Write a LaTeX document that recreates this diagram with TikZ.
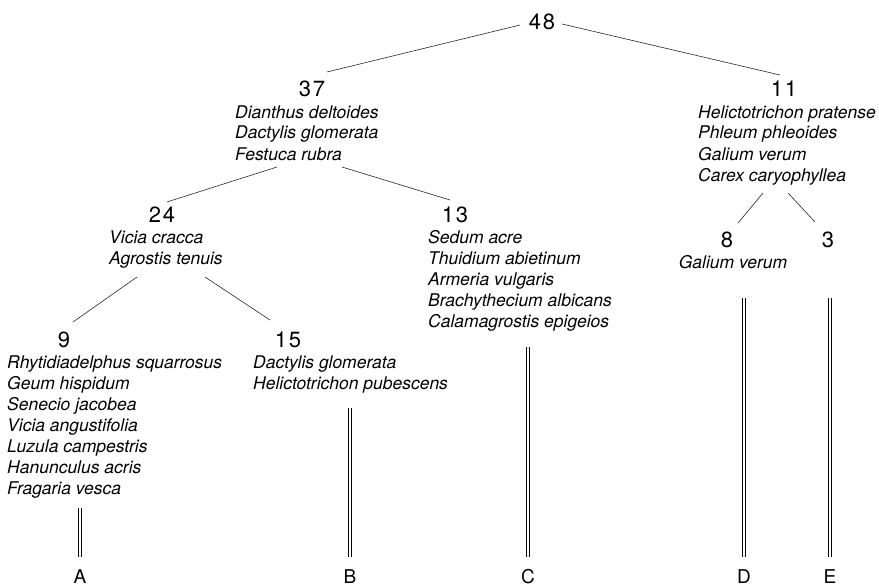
\documentclass[tikz,border=0pt]{standalone}
\usepackage{fontspec}
\setmainfont{TeX Gyre Heros}
\newfontfamily\numfont[LetterSpace=8]{TeX Gyre Heros}

\tikzset{
    branch/.style = {line width=0.6pt, black!85},
    stem/.style = {double, double distance=2.6pt, line width=0.6pt},
    count/.style = {anchor=base, inner sep=0pt, font=\numfont\fontsize{22}{24}\selectfont},
    species/.style = {anchor=base west, inner sep=0pt, font=\itshape\fontsize{17.5}{21}\selectfont},
    site/.style = {anchor=base, inner sep=0pt, font=\fontsize{19}{22}\selectfont}
}

\begin{document}
\begin{tikzpicture}[x=1pt, y=-1pt]
    \useasboundingbox (0,0) rectangle (879,586);
    % group sizes
    \node[count] (n48) at (542,30) {48};
    \node[count] (n37) at (312,97) {37};
    \node[count] (n11) at (784,97) {11};
    \node[count] (n24) at (162,222) {24};
    \node[count] (n13) at (455,222) {13};
    \node[count] (n8) at (727,247) {8};
    \node[count] (n3) at (828,247) {3};
    \node[count] (n9) at (64,347) {9};
    \node[count] (n15) at (288,347) {15};
    % indicator species
    \foreach \s [count=\i] in {Dianthus deltoides, Dactylis glomerata, Festuca rubra}
        \node[species] (s37-\i) at (235, 97+21*\i) {\s};
    \foreach \s [count=\i] in {Helictotrichon pratense, Phleum phleoides, Galium verum, Carex caryophyllea}
        \node[species] (s11-\i) at (698, 97+21*\i) {\s};
    \foreach \s [count=\i] in {Vicia cracca, Agrostis tenuis}
        \node[species] (s24-\i) at (109, 222+21*\i) {\s};
    \foreach \s [count=\i] in {Sedum acre, Thuidium abietinum, Armeria vulgaris, Brachythecium albicans, Calamagrostis epigeios}
        \node[species] (s13-\i) at (428, 222+21*\i) {\s};
    \node[species, anchor=base] (s8-1) at (733,268) {Galium verum};
    \foreach \s [count=\i] in {Rhytidiadelphus squarrosus, Geum hispidum, Senecio jacobea, Vicia angustifolia, Luzula campestris, Hanunculus acris, Fragaria vesca}
        \node[species] (s9-\i) at (7, 347+21*\i) {\s};
    \foreach \s [count=\i] in {Dactylis glomerata, Helictotrichon pubescens}
        \node[species] (s15-\i) at (253, 347+21*\i) {\s};
    % branch ends
    \coordinate (r48a) at (520,25);
    \coordinate (r37) at (327,72);
    \coordinate (r48b) at (562,24);
    \coordinate (r11) at (780,75);
    \coordinate (r37a) at (277,167);
    \coordinate (r24) at (167,202);
    \coordinate (r37b) at (342,167);
    \coordinate (r13) at (450,200);
    \coordinate (r24a) at (137,277);
    \coordinate (r9) at (73,322);
    \coordinate (r24b) at (205,277);
    \coordinate (r15) at (270,320);
    \coordinate (r11a) at (763,193);
    \coordinate (r8) at (738,223);
    \coordinate (r11b) at (788,193);
    \coordinate (r3) at (815,222);
    \draw[branch] (r48a) -- (r37);
    \draw[branch] (r48b) -- (r11);
    \draw[branch] (r37a) -- (r24);
    \draw[branch] (r37b) -- (r13);
    \draw[branch] (r24a) -- (r9);
    \draw[branch] (r24b) -- (r15);
    \draw[branch] (r11a) -- (r8);
    \draw[branch] (r11b) -- (r3);
    % end groups
    \node[site] (lA) at (80,583) {A};
    \node[site] (lB) at (350,583) {B};
    \node[site] (lC) at (528,583) {C};
    \node[site] (lD) at (744,583) {D};
    \node[site] (lE) at (830,583) {E};
    \coordinate (tA) at (80,508);
    \coordinate (tB) at (350,408);
    \coordinate (tC) at (528,347);
    \coordinate (tD) at (744,298);
    \coordinate (tE) at (830,298);
    \foreach \g in {A,B,C,D,E}
        \draw[stem, shorten >=12pt] (t\g) -- (l\g.north);
\end{tikzpicture}
\end{document}
